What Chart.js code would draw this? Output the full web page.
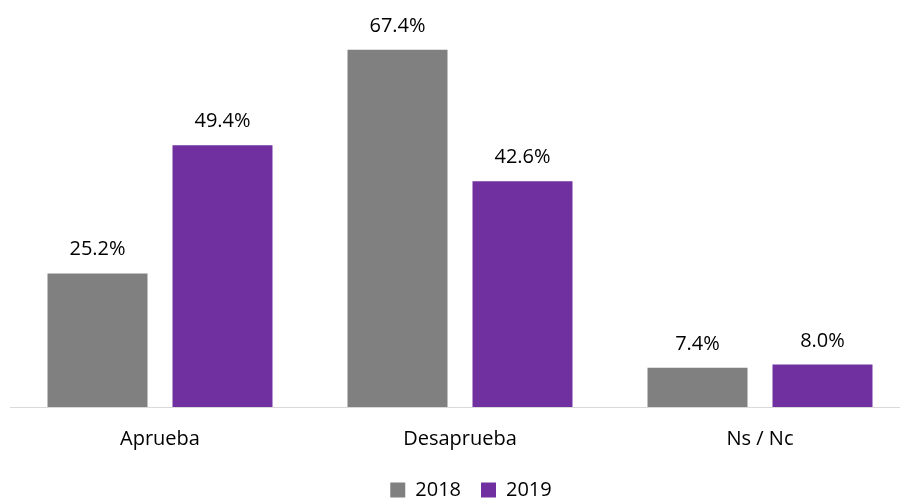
<!DOCTYPE html>
<html>
<head>
<meta charset="utf-8">
<script src="https://cdn.jsdelivr.net/npm/chart.js@4.4.1/dist/chart.umd.min.js"></script>
<style>
  html, body { margin: 0; padding: 0; background: #fff; overflow: hidden; }
  #wrap { width: 900px; height: 499px; overflow: hidden; position: relative; }
</style>
</head>
<body>
<div id="wrap"><canvas id="chart" width="942" height="499" style="width:942px;height:499px"></canvas></div>
<script>
// categories and values
const categories = ['Aprueba', 'Desaprueba', 'Ns / Nc'];
const values2018 = [25.2, 67.4, 7.4];
const values2019 = [49.4, 42.6, 8.0];
const seriesNames = ['2018', '2019'];

const fontFamily = '"Open Sans", "Liberation Sans", sans-serif';

// draws the percentage above each bar
const valueLabels = {
    id: 'valueLabels',
    afterDatasetsDraw(chart) {
        const ctx = chart.ctx;
        ctx.save();
        ctx.font = '20px ' + fontFamily;
        ctx.fillStyle = '#000';
        ctx.textAlign = 'center';
        ctx.textBaseline = 'alphabetic';
        chart.data.datasets.forEach((ds, i) => {
            chart.getDatasetMeta(i).data.forEach((bar, j) => {
                ctx.fillText(ds.data[j].toFixed(1) + '%', bar.x, bar.y - 18);
            });
        });
        ctx.restore();
    }
};

const ctx = document.getElementById('chart').getContext('2d');
new Chart(ctx, {
    type: 'bar',
    data: {
        labels: categories,
        datasets: [{
            label: seriesNames[0],
            data: values2018,
            backgroundColor: '#808080',
            categoryPercentage: 0.8333,
            barPercentage: 0.8
        }, {
            label: seriesNames[1],
            data: values2019,
            backgroundColor: '#7030A0',
            categoryPercentage: 0.8333,
            barPercentage: 0.8
        }]
    },
    options: {
        responsive: false,
        animation: false,
        devicePixelRatio: 1,
        layout: {
            padding: { top: 0, left: 0, right: 0, bottom: -11 }
        },
        scales: {
            x: {
                grid: { display: false, drawTicks: false },
                border: { display: true, color: '#d9d9d9', width: 1 },
                ticks: {
                    color: '#000',
                    font: { family: fontFamily, size: 20 },
                    padding: 20
                },
                afterFit: s => { s.height = 53; }
            },
            y: {
                min: 0,
                max: 76.8,
                grid: { display: false, drawTicks: false },
                border: { display: false },
                ticks: { display: false },
                afterFit: s => { s.width = 10; }
            },
            yR: {
                type: 'linear',
                position: 'right',
                grid: { display: false, drawTicks: false },
                border: { display: false },
                ticks: { display: false },
                afterFit: s => { s.width = 32; }
            }
        },
        plugins: {
            legend: {
                position: 'bottom',
                labels: {
                    color: '#000',
                    font: { family: fontFamily, size: 20 },
                    boxWidth: 15,
                    boxHeight: 15,
                    padding: 20
                }
            },
            tooltip: { enabled: false }
        }
    },
    plugins: [valueLabels]
});
</script>
</body>
</html>
